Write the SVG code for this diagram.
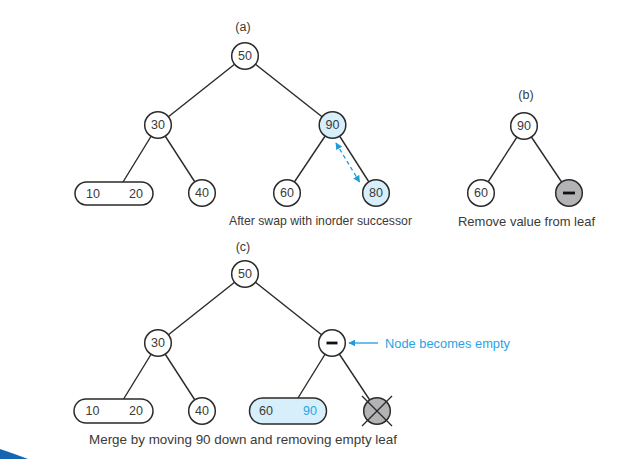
<svg xmlns="http://www.w3.org/2000/svg" width="633" height="459" viewBox="0 0 633 459">
<defs>
<style>
.edge{stroke:#2a2a2a;stroke-width:1.4;fill:none}
.nd{fill:#fff;stroke:#2a2a2a;stroke-width:1.5}
.hl{fill:#d7effb;stroke:#2a2a2a;stroke-width:1.5}
.gr{fill:#b3b3b5;stroke:#2a2a2a;stroke-width:1.5}
.t{font-family:"Liberation Sans",Arial,sans-serif;font-size:12.5px;fill:#3a3a3a;text-anchor:middle;dominant-baseline:central}
.cap{font-family:"Liberation Sans",Arial,sans-serif;font-size:13px;fill:#3a3a3a}
.blue{fill:#29a3e3}
.bar{stroke:#111;stroke-width:2.8}
</style>
<marker id="ah" viewBox="0 0 10 10" refX="9" refY="5" markerWidth="7" markerHeight="7" orient="auto-start-reverse" markerUnits="userSpaceOnUse">
<path d="M0,0 L10,5 L0,10 z" fill="#1f9be0"/>
</marker>
</defs>
<rect width="633" height="459" fill="#fff"/>
<path d="M0,449 Q15,454 28,459 L0,459 z" fill="#1565b0"/>

<g id="connectors">
<line class="edge" x1="245" y1="56" x2="158" y2="125"/>
<line class="edge" x1="245" y1="56" x2="332.5" y2="125"/>
<line class="edge" x1="158" y1="125" x2="123" y2="182"/>
<line class="edge" x1="158" y1="125" x2="202" y2="193"/>
<line class="edge" x1="332.5" y1="125" x2="287" y2="193"/>
<line class="edge" x1="332.5" y1="125" x2="376" y2="193"/>
<line x1="336" y1="143" x2="359.5" y2="182" stroke="#1f9be0" stroke-width="1.3" stroke-dasharray="4,3" marker-start="url(#ah)" marker-end="url(#ah)"/>
<line class="edge" x1="524" y1="126" x2="481" y2="193"/>
<line class="edge" x1="524" y1="126" x2="569" y2="193"/>
<line class="edge" x1="245" y1="274" x2="158" y2="343"/>
<line class="edge" x1="245" y1="274" x2="332" y2="343"/>
<line class="edge" x1="158" y1="343" x2="123" y2="400"/>
<line class="edge" x1="158" y1="343" x2="202" y2="411"/>
<line class="edge" x1="332" y1="343" x2="298" y2="398"/>
<line class="edge" x1="332" y1="343" x2="377" y2="411"/>
<line x1="378" y1="343" x2="349" y2="343" stroke="#1f9be0" stroke-width="1.3" marker-end="url(#ah)"/>
</g>

<text class="t" x="243" y="27">(a)</text>
<g id="a50"><circle class="nd" cx="245" cy="56" r="13.3"/><text class="t" x="245" y="56">50</text></g>
<g id="a30"><circle class="nd" cx="158" cy="125" r="13.3"/><text class="t" x="158" y="125">30</text></g>
<g id="a90"><circle class="hl" cx="332.5" cy="125" r="13.3"/><text class="t" x="332.5" y="125">90</text></g>
<g id="a1020"><rect class="nd" x="75" y="182" width="78" height="23" rx="11.5"/><text class="t" x="93" y="193.5">10</text><text class="t" x="136" y="193.5">20</text></g>
<g id="a40"><circle class="nd" cx="202" cy="193" r="13.3"/><text class="t" x="202" y="193">40</text></g>
<g id="a60"><circle class="nd" cx="287" cy="193" r="13.3"/><text class="t" x="287" y="193">60</text></g>
<g id="a80"><circle class="hl" cx="376" cy="193" r="13.3"/><text class="t" x="376" y="193">80</text></g>
<text class="cap" x="229" y="225" textLength="183" lengthAdjust="spacingAndGlyphs">After swap with inorder successor</text>

<text class="t" x="526" y="95">(b)</text>
<g id="b90"><circle class="nd" cx="524" cy="126" r="13.3"/><text class="t" x="524" y="126">90</text></g>
<g id="b60"><circle class="nd" cx="481" cy="193" r="13.3"/><text class="t" x="481" y="193">60</text></g>
<g id="bempty"><circle class="gr" cx="569" cy="193" r="13.3"/><line class="bar" x1="563" y1="193" x2="575" y2="193"/></g>
<text class="cap" x="458" y="226" textLength="137" lengthAdjust="spacingAndGlyphs">Remove value from leaf</text>

<text class="t" x="243" y="247">(c)</text>
<g id="c50"><circle class="nd" cx="245" cy="274" r="13.3"/><text class="t" x="245" y="274">50</text></g>
<g id="c30"><circle class="nd" cx="158" cy="343" r="13.3"/><text class="t" x="158" y="343">30</text></g>
<g id="cempty"><circle class="nd" cx="332" cy="343" r="13.3"/><line class="bar" x1="326.5" y1="343" x2="337.5" y2="343"/></g>
<g id="c1020"><rect class="nd" x="74" y="399" width="79" height="24" rx="12"/><text class="t" x="92.5" y="411">10</text><text class="t" x="136" y="411">20</text></g>
<g id="c40"><circle class="nd" cx="202" cy="411" r="13.3"/><text class="t" x="202" y="411">40</text></g>
<g id="c6090"><rect class="hl" x="249.5" y="398" width="77" height="26" rx="13"/><text class="t" x="266" y="411">60</text><text class="t blue" x="310" y="411">90</text></g>
<g id="cremoved"><circle class="gr" cx="377" cy="411" r="13.3"/><line stroke="#2a2a2a" stroke-width="1.2" x1="362" y1="396" x2="392" y2="426"/><line stroke="#2a2a2a" stroke-width="1.2" x1="392" y1="396" x2="362" y2="426"/></g>
<text class="cap blue" x="385" y="347.5" textLength="125" lengthAdjust="spacingAndGlyphs">Node becomes empty</text>
<text class="cap" x="89" y="444" textLength="308" lengthAdjust="spacingAndGlyphs">Merge by moving 90 down and removing empty leaf</text>
</svg>
